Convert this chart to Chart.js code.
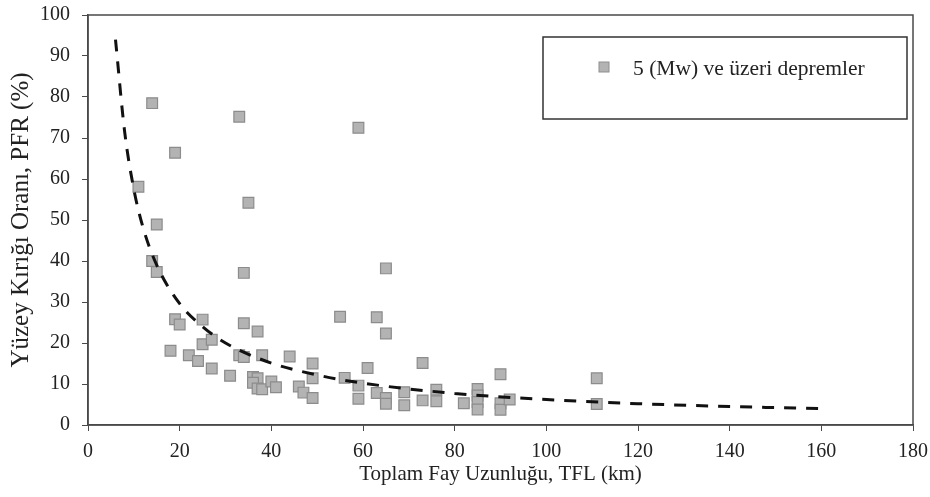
<!DOCTYPE html>
<html lang="tr">
  <head>
    <meta charset="UTF-8" />
    <title>PFR - TFL</title>
    <script src="https://cdn.jsdelivr.net/npm/chart.js"></script>
    <style>
      html, body { margin: 0; padding: 0; background: #fff; }
      #wrap { width: 930px; height: 497px; }
    </style>
  </head>
  <body>
    <div id="wrap"><canvas id="my-chart" width="930" height="497"></canvas></div>
    <script>
      //earthquake points, total fault length (km) vs surface rupture ratio (%)
      const tflKm = [14, 33, 19, 11, 35, 15, 14, 15, 34, 19, 20, 25, 34, 37, 18, 25, 27, 22, 24, 27,
        31, 33, 34, 38, 44, 49, 49, 36, 37, 36, 37, 38, 40, 41, 46, 47, 49,
        59, 65, 55, 63, 65, 73, 56, 61, 59, 59, 63, 65, 65, 69, 69, 73, 76, 76, 82,
        85, 85, 85, 85, 90, 90, 90, 92, 111, 111];
      const pfrPct = [78.5, 75.2, 66.4, 58.1, 54.2, 48.9, 40, 37.3, 37.1, 25.8, 24.5, 25.7, 24.8, 22.8, 18.1, 19.7, 20.8, 17, 15.6, 13.8,
        12, 17, 16.6, 17, 16.7, 15, 11.4, 11.7, 11.4, 10.3, 8.9, 8.7, 10.6, 9.2, 9.4, 7.9, 6.6,
        72.5, 38.2, 26.4, 26.3, 22.3, 15.1, 11.5, 13.9, 9.6, 6.4, 7.8, 6.6, 5.2, 8, 4.8, 6, 8.6, 5.8, 5.3,
        8.8, 7.2, 5.6, 3.8, 12.4, 5.3, 3.7, 6.2, 11.4, 5.1];

      //trend curve
      const trendX = [6, 8, 10, 12, 15, 20, 25, 30, 40, 50, 60, 80, 100, 120, 140, 160];
      const trendY = [94, 71.5, 57.5, 48.2, 39, 29.6, 24, 20, 15.1, 12.2, 10.2, 7.7, 6.2, 5.2, 4.5, 4];

      const yTicks = [0, 10, 20, 30, 40, 50, 60, 70, 80, 90, 100];
      const xTicks = [0, 20, 40, 60, 80, 100, 120, 140, 160, 180];

      const legendLabel = "5 (Mw) ve üzeri depremler";
      const xTitle = "Toplam Fay Uzunluğu, TFL (km)";
      const yTitle = "Yüzey Kırığı Oranı, PFR (%)";

      const FONT = "'Liberation Serif', 'Times New Roman', serif";
      const AXIS = "#4a4a4a";

      //box around plot + legend box
      const frameAndLegend = {
        id: "frameAndLegend",
        afterDraw(chart) {
          const { ctx, chartArea: a } = chart;
          ctx.save();
          ctx.strokeStyle = AXIS;
          ctx.lineWidth = 1.5;
          ctx.strokeRect(a.left, a.top, a.right - a.left, a.bottom - a.top);

          //legend box
          const lx = 543, ly = 37, lw = 364, lh = 82;
          ctx.fillStyle = "#fff";
          ctx.fillRect(lx, ly, lw, lh);
          ctx.strokeStyle = "#333";
          ctx.lineWidth = 1.5;
          ctx.strokeRect(lx, ly, lw, lh);
          ctx.fillStyle = "#b3b3b3";
          ctx.strokeStyle = "#8f8f8f";
          ctx.lineWidth = 1;
          ctx.fillRect(599, 62, 10, 10);
          ctx.strokeRect(599, 62, 10, 10);
          ctx.fillStyle = "#222";
          ctx.font = "21.5px " + FONT;
          ctx.textBaseline = "middle";
          ctx.fillText(legendLabel, 633, 69);
          ctx.restore();
        },
      };

      const ctx = document.getElementById("my-chart").getContext("2d");
      const myChart = new Chart(ctx, {
        type: "scatter",
        data: {
          datasets: [
            {
              label: legendLabel,
              data: tflKm.map((x, i) => ({ x: x, y: pfrPct[i] })),
              pointStyle: "rect",
              pointRadius: 7.6,
              backgroundColor: "#b3b3b3",
              borderColor: "#8c8c8c",
              borderWidth: 1.2,
              order: 2,
            },
            {
              label: "trend",
              type: "line",
              data: trendX.map((x, i) => ({ x: x, y: trendY[i] })),
              borderColor: "#111",
              borderWidth: 3,
              borderDash: [12, 10],
              pointRadius: 0,
              tension: 0.4,
              cubicInterpolationMode: "monotone",
              fill: false,
              order: 1,
            },
          ],
        },
        options: {
          responsive: false,
          animation: false,
          layout: { padding: { top: 15, right: 17, left: 0, bottom: 0 } },
          plugins: {
            legend: { display: false },
            tooltip: { enabled: false },
          },
          scales: {
            x: {
              type: "linear",
              min: 0,
              max: 180,
              afterBuildTicks: (s) => { s.ticks = xTicks.map((v) => ({ value: v })); },
              afterFit: (s) => { s.height = 72; s.paddingLeft = 0; s.paddingRight = 0; },
              grid: { drawOnChartArea: false, color: AXIS, tickLength: 6, tickColor: AXIS },
              border: { color: AXIS, width: 1.5 },
              ticks: { color: "#222", font: { family: FONT, size: 20 }, padding: 9, maxRotation: 0 },
              title: {
                display: true,
                text: xTitle,
                color: "#222",
                font: { family: FONT, size: 21 },
                padding: { top: 0, bottom: 10 },
              },
            },
            y: {
              min: 0,
              max: 100,
              afterBuildTicks: (s) => { s.ticks = yTicks.map((v) => ({ value: v })); },
              afterFit: (s) => { s.width = 88; s.paddingTop = 0; s.paddingBottom = 0; },
              grid: { drawOnChartArea: false, color: AXIS, tickLength: 6, tickColor: AXIS },
              border: { color: AXIS, width: 1.5 },
              ticks: { color: "#222", font: { family: FONT, size: 20 }, padding: 12 },
              title: {
                display: true,
                text: yTitle,
                color: "#222",
                font: { family: FONT, size: 25 },
                padding: { top: 6, bottom: 4 },
              },
            },
          },
        },
        plugins: [frameAndLegend],
      });
    </script>
  </body>
</html>
